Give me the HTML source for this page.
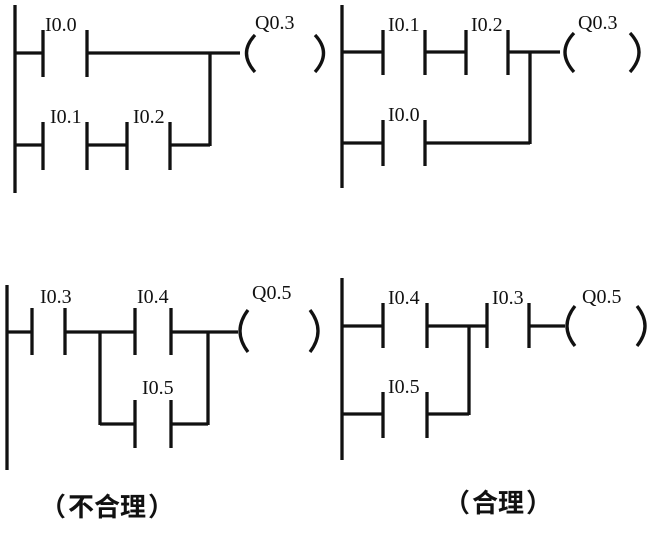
<!DOCTYPE html>
<html><head><meta charset="utf-8"><style>html,body{margin:0;padding:0;background:#fff}svg{display:block}</style></head>
<body>
<svg width="657" height="534" viewBox="0 0 657 534" xmlns="http://www.w3.org/2000/svg">
<g stroke="#111" stroke-width="3.3" fill="none" stroke-linecap="butt">
<line x1="15" y1="5" x2="15" y2="193"/>
<line x1="15" y1="53" x2="43" y2="53"/>
<line x1="43" y1="30" x2="43" y2="77"/><line x1="87" y1="30" x2="87" y2="77"/>
<line x1="87" y1="53" x2="240" y2="53"/>
<line x1="210" y1="53" x2="210" y2="146"/>
<line x1="15" y1="145" x2="43" y2="145"/>
<line x1="43" y1="122" x2="43" y2="170"/><line x1="87" y1="122" x2="87" y2="170"/>
<line x1="87" y1="145" x2="127" y2="145"/>
<line x1="127" y1="122" x2="127" y2="170"/><line x1="170" y1="122" x2="170" y2="170"/>
<line x1="170" y1="145" x2="210" y2="145"/>
<path d="M255 35 Q238 53 255 72"/><path d="M315 35 Q332 53 315 72"/>
<line x1="342" y1="5" x2="342" y2="188"/>
<line x1="342" y1="52" x2="383" y2="52"/>
<line x1="383" y1="30" x2="383" y2="75"/><line x1="425" y1="30" x2="425" y2="75"/>
<line x1="425" y1="52" x2="466" y2="52"/>
<line x1="466" y1="30" x2="466" y2="75"/><line x1="508" y1="30" x2="508" y2="75"/>
<line x1="508" y1="52" x2="560" y2="52"/>
<line x1="530" y1="52" x2="530" y2="144"/>
<line x1="342" y1="143" x2="383" y2="143"/>
<line x1="383" y1="120" x2="383" y2="166"/><line x1="425" y1="120" x2="425" y2="166"/>
<line x1="425" y1="143" x2="530" y2="143"/>
<path d="M574 33 Q556 52 574 72"/><path d="M630 33 Q648 52 630 72"/>
<line x1="7" y1="285" x2="7" y2="470"/>
<line x1="7" y1="332" x2="32" y2="332"/>
<line x1="32" y1="308" x2="32" y2="355"/><line x1="65" y1="308" x2="65" y2="355"/>
<line x1="65" y1="332" x2="135" y2="332"/>
<line x1="135" y1="308" x2="135" y2="355"/><line x1="171" y1="308" x2="171" y2="355"/>
<line x1="171" y1="332" x2="238" y2="332"/>
<line x1="100" y1="332" x2="100" y2="425"/>
<line x1="100" y1="424" x2="135" y2="424"/>
<line x1="135" y1="400" x2="135" y2="448"/><line x1="171" y1="400" x2="171" y2="448"/>
<line x1="171" y1="424" x2="208" y2="424"/>
<line x1="208" y1="332" x2="208" y2="425"/>
<path d="M248 310 Q232 331 248 352"/><path d="M310 310 Q326 331 310 352"/>
<line x1="342" y1="278" x2="342" y2="460"/>
<line x1="342" y1="326" x2="383" y2="326"/>
<line x1="383" y1="303" x2="383" y2="348"/><line x1="427" y1="303" x2="427" y2="348"/>
<line x1="427" y1="326" x2="487" y2="326"/>
<line x1="487" y1="303" x2="487" y2="348"/><line x1="529" y1="303" x2="529" y2="348"/>
<line x1="529" y1="326" x2="565" y2="326"/>
<line x1="469" y1="326" x2="469" y2="415"/>
<line x1="342" y1="414" x2="383" y2="414"/>
<line x1="383" y1="392" x2="383" y2="438"/><line x1="427" y1="392" x2="427" y2="438"/>
<line x1="427" y1="414" x2="469" y2="414"/>
<path d="M575 306 Q559 326 575 346"/><path d="M637 306 Q653 326 637 346"/>
</g>
<g font-family="Liberation Serif, serif" font-size="20" fill="#111">
<text x="45" y="31">I0.0</text>
<text x="255" y="29">Q0.3</text>
<text x="50" y="123">I0.1</text>
<text x="133" y="123">I0.2</text>
<text x="388" y="31">I0.1</text>
<text x="471" y="31">I0.2</text>
<text x="578" y="29">Q0.3</text>
<text x="388" y="121">I0.0</text>
<text x="40" y="303">I0.3</text>
<text x="137" y="303">I0.4</text>
<text x="252" y="299">Q0.5</text>
<text x="142" y="394">I0.5</text>
<text x="388" y="304">I0.4</text>
<text x="492" y="304">I0.3</text>
<text x="582" y="303">Q0.5</text>
<text x="388" y="393">I0.5</text>
</g>
<g font-family="Liberation Serif, Noto Sans CJK SC, sans-serif" font-size="26" font-weight="bold" fill="#111">
<text x="40" y="516"><tspan>（</tspan><tspan dx="2">不合理</tspan><tspan dx="2">）</tspan></text>
<text x="444" y="512"><tspan>（</tspan><tspan dx="2">合理</tspan><tspan dx="2">）</tspan></text>
</g>
</svg>
</body></html>
